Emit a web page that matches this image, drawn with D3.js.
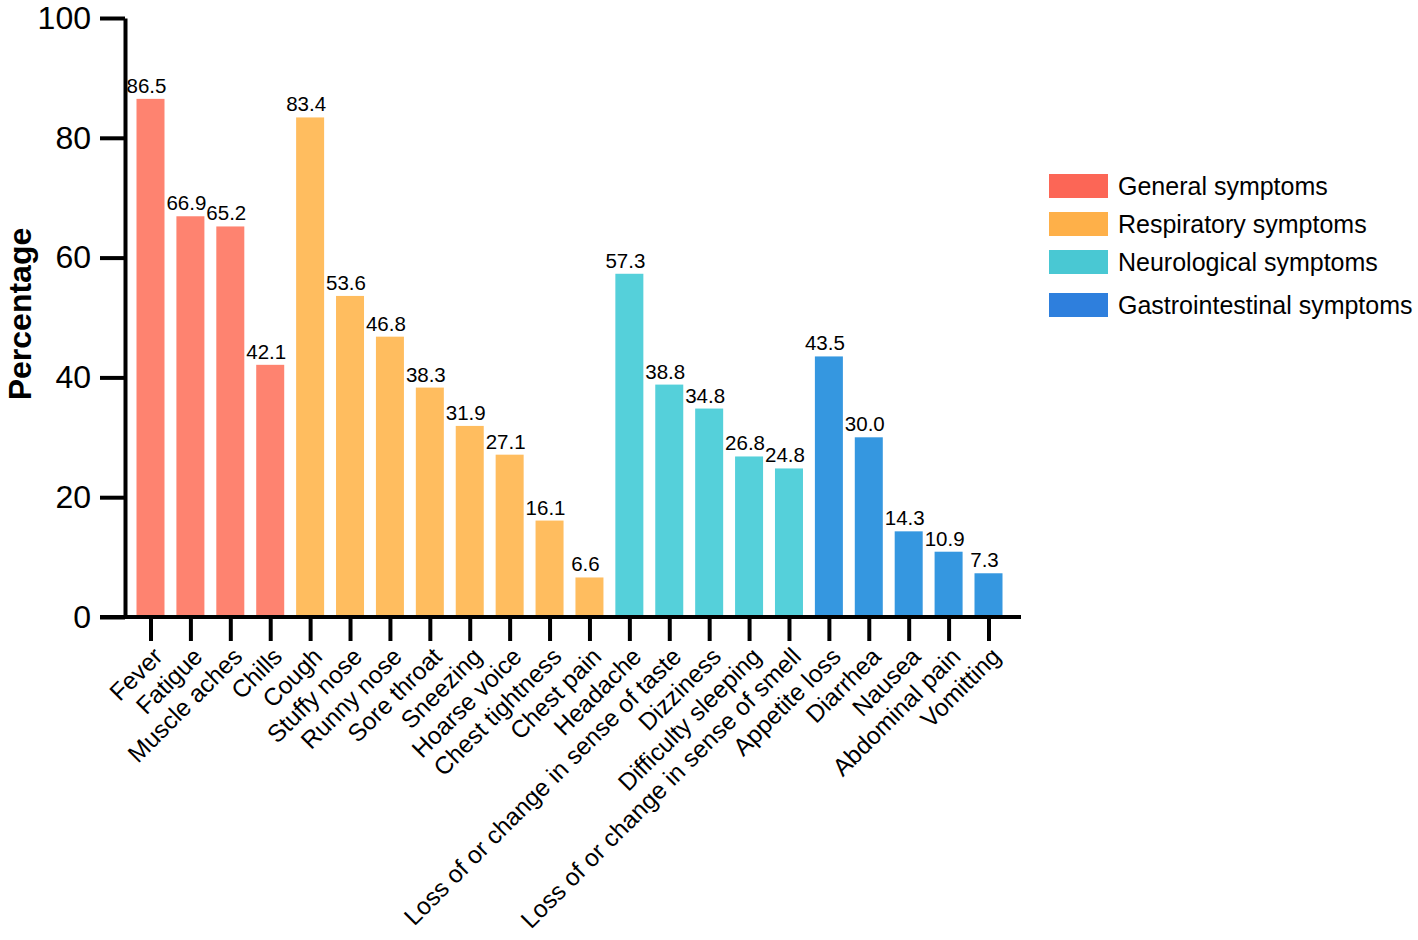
<!DOCTYPE html>
<html>
  <head>
    <meta charset='utf-8'>
    <script src='https://d3js.org/d3.v7.min.js'></script>
    <style>
body { margin: 0; background: #fff; font-family: 'Liberation Sans', Arial, sans-serif; }
    </style>
  </head>
  <body>
    <div id='chart'></div>
    <script>
        // data
        const symptoms = ['Fever', 'Fatigue', 'Muscle aches', 'Chills', 'Cough', 'Stuffy nose',
            'Runny nose', 'Sore throat', 'Sneezing', 'Hoarse voice', 'Chest tightness', 'Chest pain',
            'Headache', 'Loss of or change in sense of taste', 'Dizziness', 'Difficulty sleeping',
            'Loss of or change in sense of smell', 'Appetite loss', 'Diarrhea', 'Nausea',
            'Abdominal pain', 'Vomitting'];
        const percentages = [86.5, 66.9, 65.2, 42.1, 83.4, 53.6, 46.8, 38.3, 31.9, 27.1, 16.1, 6.6,
            57.3, 38.8, 34.8, 26.8, 24.8, 43.5, 30.0, 14.3, 10.9, 7.3];
        const groupOf = [0, 0, 0, 0, 1, 1, 1, 1, 1, 1, 1, 1, 2, 2, 2, 2, 2, 3, 3, 3, 3, 3];
        const groups = ['General symptoms', 'Respiratory symptoms', 'Neurological symptoms', 'Gastrointestinal symptoms'];
        const yTicks = [0, 20, 40, 60, 80, 100];

        const barColors = ['#fe8370', '#ffbd5f', '#55d0da', '#3597e0'];
        const legendColors = ['#fc6656', '#feb049', '#49c8d3', '#2e7fdd'];

        const width = 1418, height = 940;
        const svg = d3.select('#chart').append('svg')
            .attr('width', width)
            .attr('height', height);

        const x = d3.scalePoint()
            .domain(symptoms)
            .range([150.5, 988.5]);
        const y = d3.scaleLinear()
            .domain([0, 100])
            .range([617, 18]);
        const barWidth = 28;

        // bars
        svg.append('g').selectAll('rect')
            .data(symptoms)
            .join('rect')
            .attr('x', d => x(d) - barWidth / 2)
            .attr('y', (d, i) => y(percentages[i]))
            .attr('width', barWidth)
            .attr('height', (d, i) => y(0) - y(percentages[i]))
            .style('fill', (d, i) => barColors[groupOf[i]]);

        // value labels
        svg.append('g').selectAll('text')
            .data(symptoms)
            .join('text')
            .attr('x', d => x(d) - 4)
            .attr('y', (d, i) => y(percentages[i]) - 6)
            .attr('text-anchor', 'middle')
            .style('font-size', '20.5px')
            .text((d, i) => percentages[i].toFixed(1));

        // y axis
        const yAxis = svg.append('g')
            .attr('transform', 'translate(125,0)')
            .call(d3.axisLeft(y).tickValues(yTicks).tickSize(25).tickPadding(9).tickSizeOuter(0));
        yAxis.select('.domain').attr('stroke-width', 4).attr('stroke', '#000');
        yAxis.selectAll('.tick line').attr('stroke-width', 4);
        yAxis.selectAll('.tick text').style('font-size', '32px').style('font-family', "'Liberation Sans', Arial, sans-serif").attr('fill', '#000');

        // x axis
        const xAxis = svg.append('g')
            .attr('transform', 'translate(0,617)')
            .call(d3.axisBottom(x).tickSize(24).tickSizeOuter(0));
        xAxis.select('.domain').attr('d', 'M100,0H1021').attr('stroke-width', 4).attr('stroke', '#000');
        xAxis.selectAll('.tick line').attr('stroke-width', 4);
        xAxis.selectAll('.tick text')
            .style('font-size', '24.5px')
            .style('font-family', "'Liberation Sans', Arial, sans-serif")
            .attr('fill', '#000')
            .attr('text-anchor', 'end')
            .attr('dy', '0.35em')
            .attr('transform', 'translate(7,35) rotate(-45)')
            .attr('y', 0)
            .attr('x', 0);

        // y title
        svg.append('text')
            .attr('transform', 'translate(31,314) rotate(-90)')
            .attr('text-anchor', 'middle')
            .style('font-size', '32px')
            .style('font-weight', 'bold')
            .text('Percentage');

        // legend
        const legendY = [186, 224, 262, 305];
        const legend = svg.append('g').selectAll('g')
            .data(groups)
            .join('g')
            .attr('transform', (d, i) => 'translate(1049,' + legendY[i] + ')');
        legend.append('rect')
            .attr('x', 0)
            .attr('y', -12)
            .attr('width', 59)
            .attr('height', 24)
            .style('fill', (d, i) => legendColors[i]);
        legend.append('text')
            .attr('x', 69)
            .attr('dy', '0.35em')
            .style('font-size', '25px')
            .text(d => d);
    </script>
  </body>
</html>
